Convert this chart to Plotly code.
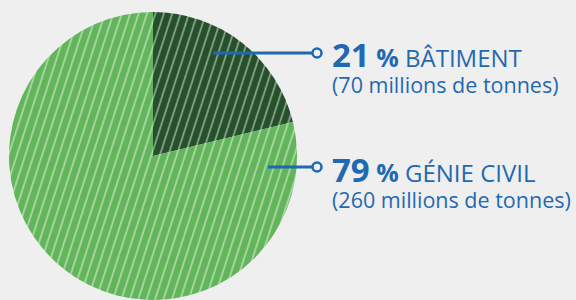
import plotly.graph_objects as go

# Data
labels = ["BÂTIMENT", "GÉNIE CIVIL"]
values = [70, 260]          # millions de tonnes
percents = ["21", "79"]
amounts = ["(70 millions de tonnes)", "(260 millions de tonnes)"]
slice_colors = ["#24502a", "#62b55a"]

W, H = 576, 300
BG = "#efefef"
BLUE = "#1f69b3"
FONT = "Open Sans"

fig = go.Figure()
fig.add_trace(go.Pie(
    labels=labels, values=values, sort=False, direction="clockwise", rotation=0,
    marker=dict(colors=slice_colors, line=dict(width=0),
                pattern=dict(shape="/", fgcolor="white", size=8, solidity=0.2,
                             fillmode="overlay")),
    textinfo="none", hoverinfo="skip", showlegend=False,
    domain=dict(x=[9 / W, 297 / W], y=[0, 288 / H]),
))

def px(x):
    return x / W

def py(y):
    return 1 - y / H

# leader lines (start x in px, y in px)
leaders = [(213, 53), (268, 167)]
shapes = []
for (x0, y0) in leaders:
    shapes.append(dict(type="line", xref="paper", yref="paper",
                       x0=px(x0), x1=px(313), y0=py(y0), y1=py(y0),
                       line=dict(color=BLUE, width=3)))
    r = 4.5
    shapes.append(dict(type="circle", xref="paper", yref="paper",
                       x0=px(317 - r), x1=px(317 + r), y0=py(y0 - r), y1=py(y0 + r),
                       fillcolor=BG, line=dict(color=BLUE, width=2.5)))

annotations = []
for i, (x0, y0) in enumerate(leaders):
    annotations.append(dict(
        xref="paper", yref="paper", x=px(330), y=py(y0 + 13),
        xanchor="left", yanchor="middle", showarrow=False, align="left",
        text=(f"<span style='font-size:33px'><b>{percents[i]}</b></span>"
              f"<span style='font-size:25px'><b> %</b></span>"
              f"<span style='font-size:24px'> {labels[i]}</span><br>"
              f"<span style='font-size:21.5px'>{amounts[i]}</span>"),
        font=dict(family=FONT, size=20, color=BLUE)))

fig.update_layout(
    width=W, height=H, margin=dict(l=0, r=0, t=0, b=0),
    paper_bgcolor=BG, plot_bgcolor=BG,
    shapes=shapes, annotations=annotations,
)

js = """
document.body.style.margin = '0';
document.body.style.background = '#efefef';
document.querySelectorAll('pattern').forEach(function(p){
  p.setAttribute('patternTransform','rotate(-27)');
});
"""
fig.write_html("out.html", post_script=js, config={"displayModeBar": False})
